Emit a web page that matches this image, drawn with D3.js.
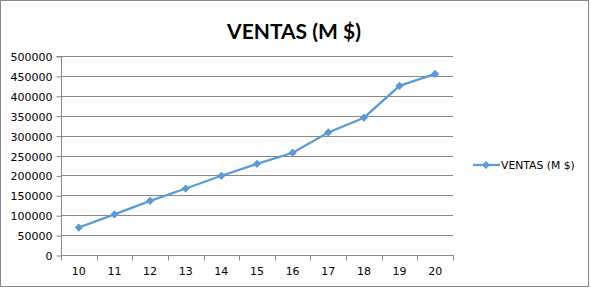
<!DOCTYPE html>
<html><head><meta charset="utf-8">
<script src="https://cdn.jsdelivr.net/npm/d3@7"></script>
<style>body{margin:0;background:#fff}svg{display:block}</style>
</head><body>
<script>
const categories = ["10","11","12","13","14","15","16","17","18","19","20"];
const values = [69000, 102000, 136000, 167000, 199000, 229000, 257000, 308000, 345000, 425000, 455000];
const yTicks = [0,50000,100000,150000,200000,250000,300000,350000,400000,450000,500000];
const seriesName = "VENTAS (M $)";
const title = "VENTAS (M $)";

const W=591,H=290;
const svg=d3.select("body").append("svg").attr("width",W).attr("height",H);
svg.append("rect").attr("x",0.5).attr("y",0.5).attr("width",W-3).attr("height",H-4)
  .attr("fill","#fff").attr("stroke","#868686").attr("stroke-width",1);

const x=d3.scaleBand().domain(categories).range([61,453]);
const y=d3.scaleLinear().domain([0,500000]).range([255,56]);

const grid=svg.append("g");
grid.selectAll("line").data(yTicks).join("line")
  .attr("x1",61).attr("x2",453)
  .attr("y1",d=>Math.round(y(d))+0.5).attr("y2",d=>Math.round(y(d))+0.5)
  .attr("stroke","#868686");

const ya=svg.append("g").attr("transform","translate(61.5,0.5)")
  .call(d3.axisLeft(y).tickValues(yTicks).tickSize(5).tickPadding(4).tickFormat(d3.format("d")));
ya.selectAll("text").attr("font-family","DejaVu Sans").attr("font-size",11).attr("fill","#000")
  .attr("transform",d=>`translate(0,${Math.round(y(d))-y(d)})`);
ya.select(".domain").attr("stroke","#868686").attr("d","M-5,"+Math.round(y(500000))+"H0V"+Math.round(y(0)));
ya.selectAll(".tick line").attr("stroke","#868686");

// x axis
const xa=svg.append("g").attr("transform","translate(0,255.5)");
xa.append("line").attr("x1",61).attr("x2",454).attr("stroke","#868686");
const bounds=categories.map(c=>x(c)).concat([x.range()[1]]);
xa.selectAll("line.t").data(bounds).join("line").attr("class","t")
  .attr("x1",d=>Math.round(d)+0.5).attr("x2",d=>Math.round(d)+0.5).attr("y1",0).attr("y2",5)
  .attr("stroke","#868686");
xa.selectAll("text").data(categories).join("text")
  .attr("x",d=>x(d)+x.bandwidth()/2).attr("y",19)
  .attr("text-anchor","middle").attr("font-family","DejaVu Sans").attr("font-size",11).attr("fill","#000")
  .text(d=>d);

const color="#5B9BD5";
const line=d3.line().x((d,i)=>x(categories[i])+x.bandwidth()/2).y(d=>y(d));
svg.append("path").datum(values).attr("d",line).attr("fill","none").attr("stroke",color).attr("stroke-width",2.25);
svg.selectAll("path.m").data(values).join("path").attr("class","m")
  .attr("d",d3.symbol().type(d3.symbolSquare).size(34))
  .attr("transform",(d,i)=>`translate(${x(categories[i])+x.bandwidth()/2},${y(d)}) rotate(45)`)
  .attr("fill",color);

// title
svg.append("text").attr("x",294).attr("y",39).attr("text-anchor","middle")
  .attr("font-family","Lato").attr("font-weight","bold").attr("font-size",21).attr("fill","#000").text(title);

// legend
const lg=svg.append("g").attr("transform","translate(0,165)");
lg.append("line").attr("x1",473).attr("x2",500).attr("y1",0).attr("y2",0).attr("stroke",color).attr("stroke-width",2.25);
lg.append("path").attr("d",d3.symbol().type(d3.symbolSquare).size(34)).attr("transform","translate(486,0) rotate(45)").attr("fill",color);
lg.append("text").attr("x",501).attr("y",4).attr("font-family","DejaVu Sans").attr("font-size",10.8).attr("fill","#000").text(seriesName);
</script>
</body></html>
